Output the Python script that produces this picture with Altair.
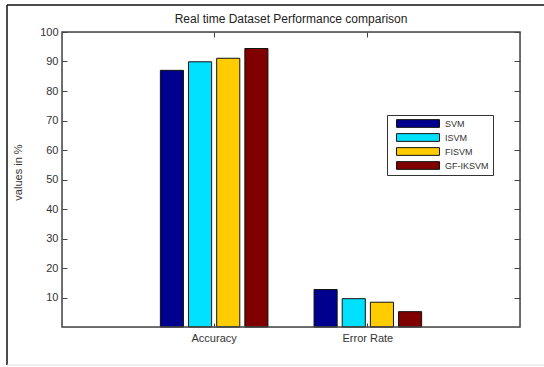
import altair as alt
import pandas as pd

# Grouped bar data
categories = ["Accuracy", "Error Rate"]
methods = ["SVM", "ISVM", "FISVM", "GF-IKSVM"]
accuracy = [87.0, 89.9, 91.1, 94.4]
error_rate = [12.7, 9.6, 8.4, 5.2]
colors = ["#00008F", "#00E1FF", "#FFCC00", "#800000"]
y_ticks = [10, 20, 30, 40, 50, 60, 70, 80, 90, 100]
chart_title = "Real time Dataset Performance comparison"

rows = []
for cat, vals in zip(categories, [accuracy, error_rate]):
    for m, v in zip(methods, vals):
        rows.append({"category": cat, "method": m, "value": v})
df = pd.DataFrame(rows)

FONT = "Liberation Sans"
TXT = "#333333"
AX = "#444444"

x_scale = alt.Scale(domain=categories, paddingInner=0.3, paddingOuter=0.64)
xo_scale = alt.Scale(domain=methods, paddingInner=0.18, paddingOuter=0)
y_scale = alt.Scale(domain=[0, 100], nice=False)

bars = alt.Chart(df).mark_bar(stroke="#111111", strokeWidth=1).encode(
    x=alt.X("category:N", scale=x_scale, sort=categories,
            axis=alt.Axis(title=None, orient="bottom", labelAngle=0, domain=False,
                          grid=False, tickSize=4, offset=-4, labelPadding=5,
                          labelFont=FONT, labelFontSize=11, labelColor=TXT,
                          tickColor=AX)),
    xOffset=alt.XOffset("method:N", scale=xo_scale, sort=methods),
    y=alt.Y("value:Q", scale=y_scale,
            axis=alt.Axis(title="values in %", orient="left", values=y_ticks,
                          domain=False, grid=False, tickSize=5, offset=-5,
                          labelPadding=4, labelFont=FONT, labelFontSize=11,
                          labelColor=TXT, tickColor=AX, titleFont=FONT,
                          titleFontSize=11, titleFontWeight="normal", titleColor=TXT,
                          titleAngle=270, titleX=-49, titleY=140, titleAlign="center",
                          titleBaseline="middle")),
    color=alt.Color("method:N", sort=methods,
                    scale=alt.Scale(domain=methods, range=colors),
                    legend=alt.Legend(title=None, orient="none", legendX=325, legendY=83,
                                      symbolType="M-1,-0.18H1V0.18H-1Z", symbolSize=1849,
                                      symbolStrokeColor="#111111", symbolStrokeWidth=1,
                                      symbolOffset=5, clipHeight=9, rowPadding=4,
                                      labelFont=FONT, labelFontSize=9, labelColor=TXT,
                                      labelOffset=5, padding=4, strokeColor="#333333",
                                      fillColor="white")),
)

# Mirror axes on top and right with inward ticks
mirror = alt.Chart(df).mark_bar(opacity=0).encode(
    x=alt.X("category:N", scale=x_scale, sort=categories,
            axis=alt.Axis(title=None, orient="top", labels=False, domain=False,
                          grid=False, tickSize=5, offset=-5, tickColor=AX)),
    xOffset=alt.XOffset("method:N", scale=xo_scale, sort=methods),
    y=alt.Y("value:Q", scale=y_scale,
            axis=alt.Axis(title=None, orient="right", values=y_ticks, labels=False,
                          domain=False, grid=False, tickSize=6, offset=-6,
                          tickColor=AX)),
)

# Title above the plot frame
one = pd.DataFrame({"t": [chart_title]})
title = alt.Chart(one).mark_text(font=FONT, fontSize=12, color="#222222",
                                  align="center", baseline="alphabetic").encode(
    text="t:N", x=alt.value(229), y=alt.value(-9))

# Axes box around the plot area
frame = alt.Chart(one).mark_rect(fill=None, stroke=AX, strokeWidth=1.5).encode(
    x=alt.value(0), x2=alt.value(458), y=alt.value(0), y2=alt.value(295))

# Figure border lines
left_edge = alt.Chart(one).mark_rule(color="#111111", strokeWidth=1.5).encode(
    x=alt.value(-55), y=alt.value(-27), y2=alt.value(333))
top_edge = alt.Chart(one).mark_rule(color="#111111", strokeWidth=1.5).encode(
    x=alt.value(-55), x2=alt.value(482), y=alt.value(-27))
bottom_edge = alt.Chart(one).mark_rule(color="#dddddd", strokeWidth=1).encode(
    x=alt.value(-55), x2=alt.value(482), y=alt.value(333))

chart = alt.layer(bars, mirror, title, frame, left_edge, top_edge, bottom_edge).resolve_scale(
    x="independent", y="independent"
).properties(
    width=458,
    height=295,
    padding={"left": 62, "top": 32, "right": 24, "bottom": 40},
    autosize=alt.AutoSizeParams(type="none"),
).configure_view(
    stroke=None
).configure(background="white")

chart.save("out.html", embed_options={"renderer": "svg", "actions": False})
